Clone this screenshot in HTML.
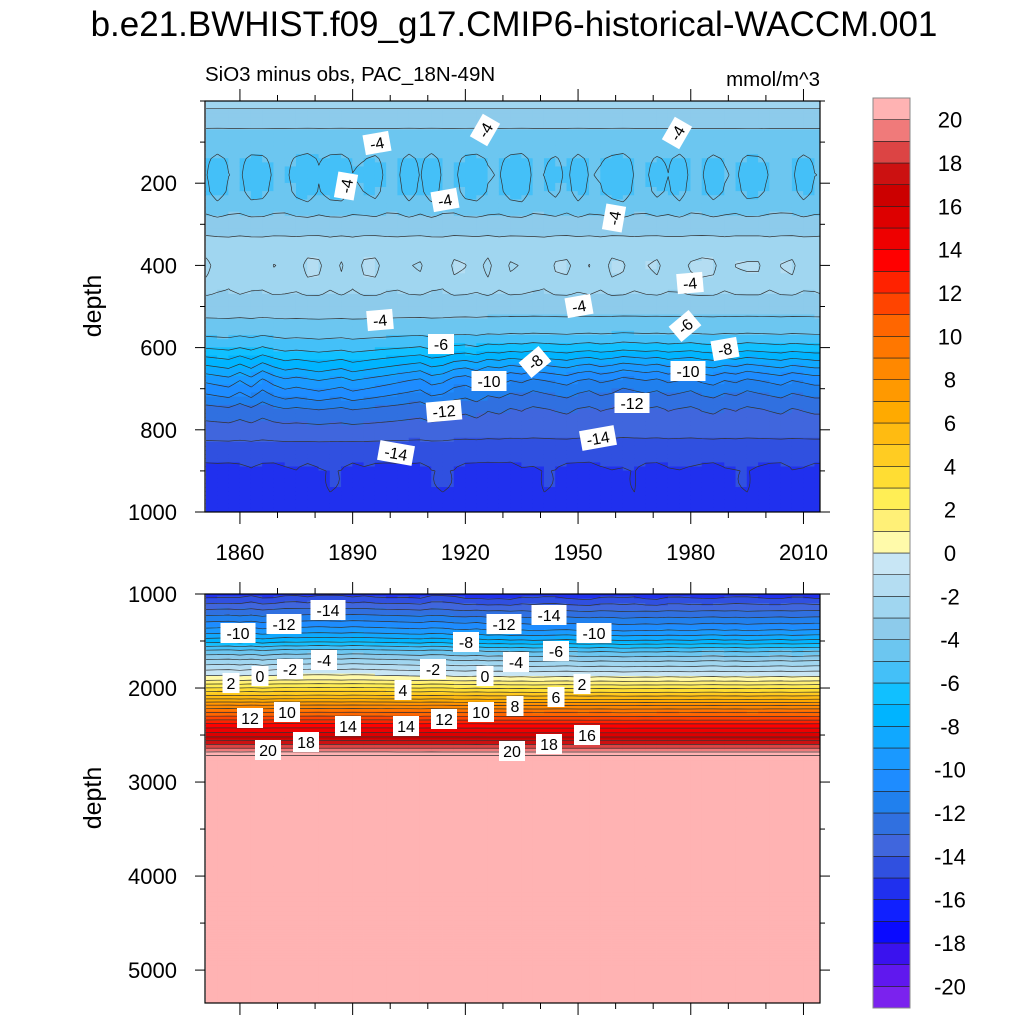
<!DOCTYPE html>
<html><head><meta charset="utf-8">
<style>
body{margin:0;background:#fff;}
svg text{font-family:"Liberation Sans",sans-serif;}
</style></head>
<body>
<svg id="chart" width="1024" height="1024" viewBox="0 0 1024 1024" xmlns="http://www.w3.org/2000/svg">
<text x="514" y="36" font-size="35" text-anchor="middle">b.e21.BWHIST.f09_g17.CMIP6-historical-WACCM.001</text>
<text x="205" y="81" font-size="20.5">SiO3 minus obs, PAC_18N-49N</text>
<text x="820" y="86" font-size="20.5" text-anchor="end">mmol/m^3</text>
<text transform="translate(101,306) rotate(-90)" font-size="25" text-anchor="middle">depth</text>
<text transform="translate(101,798) rotate(-90)" font-size="25" text-anchor="middle">depth</text>
<g id="top"></g>
<g id="bot"></g>
<g id="cbar"></g>
</svg>
<script>
// ---- data ----
const years = [];
for (let y = 1851; y <= 2018; y += 3) years.push(y);
const topDepths = [0,5,36,97,140,182,220,255,303,350,400,440,485,557,600,640,680,750,825,897,970,1000];
const topProfile = [-2.5,-2.6,-3.5,-4.5,-5.0,-5.3,-5.1,-4.5,-3.5,-2.6,-2.2,-2.5,-3.3,-4.5,-6.0,-8.0,-10.0,-12.5,-14.0,-15.2,-15.6,-15.6];
const shallowAnom = [0.4,-0.5,0.3,0.5,-0.4,-0.3,0.5,0.6,-0.2,-0.6,0.2,-0.4,-0.5,0.3,0.1,-0.3,0.6,0.5,-0.5,0.4,-0.6,0.5,0.6,-0.3,-0.5,0.2,0.4,-0.4,-0.6,0.5,0.3,-0.2,0.6,-0.5,0.4,0.2,-0.3,-0.6,0.4,0.5,-0.2,0.3,-0.5,0.6,0.4,-0.4,0.2,0.5,-0.3,-0.2,0.4,0.6,0.5,-0.4,0.3,0.4];
const midAnom = [0.1,0.2,0.3,0.0,0.3,-0.1,0.2,0.4,0.3,0.4,0.5,0.4,0.3,0.5,0.4,0.3,0.2,0.1,0.0,-0.1,0.2,0.1,-0.2,-0.3,-0.1,-0.4,-0.3,-0.5,-0.4,-0.6,-0.5,-0.4,-0.3,-0.5,-0.6,-0.4,-0.5,-0.7,-0.6,-0.5,-0.6,-0.4,-0.5,-0.6,-0.4,-0.3,-0.5,-0.4,-0.6,-0.5,-0.4,-0.3,-0.5,-0.4,-0.3,-0.3];
const deepAnom = [-0.3,-0.2,-0.3,-0.1,0.3,-0.2,-0.3,0.2,0.4,-0.2,0.3,0.5,0.4,-0.3,0.2,-0.2,-0.3,-0.2,-0.1,-0.3,0.4,0.5,0.4,-0.2,-0.3,-0.4,-0.3,-0.4,0.3,0.2,0.5,0.4,-0.2,-0.3,-0.4,0.2,0.4,0.3,0.5,-0.2,-0.3,0.3,0.4,0.2,-0.1,-0.3,0.3,0.4,0.5,0.2,-0.2,-0.3,0.4,0.3,-0.2,-0.2];
const botDepths = [1000,1100,1200,1300,1400,1500,1600,1700,1800,1900,2000,2100,2200,2300,2400,2500,2600,2700,2750,5400];
const botProfile = [-15.5,-14,-12.5,-11,-9.5,-7.5,-5,-3,-1.2,0.5,3,5.5,8.5,11,13.5,15.5,18,20.5,22,22];
const cbColors = ["#7B22EE","#6018EE","#3A12EE","#0A0AFF","#1020FF","#2030EE","#3050E0","#4066DD","#3070E0","#2080EE","#1E8CFF","#1A99FF","#10A8FF","#00B4FF","#11C0FF","#44C0F8","#6CC6F0","#8DCBEB","#A0D6F0","#B4DDF2","#C8E6F5","#FFFAAA","#FFF077","#FFEE55","#FFDD33","#FFCC22","#FFBB11","#FFAA00","#FF9900","#FF8800","#FF7700","#FF6600","#FF4400","#FF2200","#FF0000","#EE0000","#DD0000","#CC0000","#CC1111","#DC4444","#F07A7A","#FFB3B3"];
const cbLabels = [-20,-18,-16,-14,-12,-10,-8,-6,-4,-2,0,2,4,6,8,10,12,14,16,18,20];
const topLabels = [["-4",377,143,-10],["-4",485,130,-60],["-4",677,133,-60],["-4",346,186,-80],["-4",445,200,-10],["-4",614,218,-80],["-4",690,283,-5],["-4",579,306,-10],["-4",380,320,-5],["-6",441,344,0],["-6",685,326,-40],["-8",535,362,-40],["-8",725,349,-10],["-10",489,381,0],["-10",688,371,0],["-12",444,411,-5],["-12",632,403,0],["-14",396,453,10],["-14",598,438,-10]];
const botLabels = [["-14",328,610],["-12",284,624],["-10",238,633],["-12",504,624],["-14",549,615],["-10",594,633],["-8",466,642],["-6",556,651],["-4",324,660],["-4",516,662],["-2",290,669],["-2",433,669],["0",260,676],["0",485,676],["2",231,683],["2",582,684],["4",403,690],["6",556,697],["8",515,706],["10",287,712],["10",481,712],["12",250,718],["12",444,719],["14",348,726],["14",406,726],["16",587,735],["18",306,742],["18",549,744],["20",268,750],["20",512,751]];

// ---- helpers ----
const NS = "http://www.w3.org/2000/svg";
function mk(tag, attrs, parent){const e=document.createElementNS(NS,tag);for(const k in attrs)e.setAttribute(k,attrs[k]);parent.appendChild(e);return e;}
const X0=205,X1=820,Y0min=1850.7,Y1max=2014.4;
const xs = y => X0 + (y - Y0min) * (X1 - X0) / (Y1max - Y0min);
function interp(ds, vs, d){ if(d<=ds[0])return vs[0]; for(let i=1;i<ds.length;i++){ if(d<=ds[i]){const t=(d-ds[i-1])/(ds[i]-ds[i-1]);return vs[i-1]+t*(vs[i]-vs[i-1]);} } return vs[vs.length-1]; }
function bump(d,c,w){const z=(d-c)/w;return Math.exp(-z*z);}
function A(arr,i){return arr[i%arr.length];}
function topVal(i,d){return interp(topDepths,topProfile,d)+A(shallowAnom,i)*bump(d,200,60)+A(shallowAnom,i+7)*0.8*bump(d,410,50)+A(midAnom,i)*2*bump(d,680,90)+A(deepAnom,i)*bump(d,950,60);}
function botVal(i,d){return interp(botDepths,botProfile,d)+A(midAnom,i)*0.6*bump(d,1500,600)+A(deepAnom,i)*0.5*bump(d,1050,80);}
function colorOf(v){let k=Math.floor(v)+21;k=Math.max(0,Math.min(41,k));return cbColors[k];}

function panel(g, py0, py1, dmin, dmax, depthStep, valFn, yTicks, minorStep, xLabels){
  const ys = d => py0 + (d - dmin) * (py1 - py0) / (dmax - dmin);
  const clipId = 'clip'+py0;
  const cp = mk('clipPath',{id:clipId},g); mk('rect',{x:X0,y:py0,width:X1-X0,height:py1-py0},cp);
  const inner = mk('g',{'clip-path':'url(#'+clipId+')'},g);
  const ds=[]; for(let d=dmin; d<=dmax+1e-6; d+=depthStep) ds.push(d);
  const V = years.map((y,i)=>ds.map(d=>valFn(i,d)));
  for(let i=0;i<years.length-1;i++){
    for(let j=0;j<ds.length-1;j++){
      const v=(V[i][j]+V[i+1][j]+V[i][j+1]+V[i+1][j+1])/4;
      const r=mk('rect',{x:xs(years[i])-0.3,y:ys(ds[j])-0.3,width:xs(years[i+1])-xs(years[i])+0.6,height:ys(ds[j+1])-ys(ds[j])+0.6,fill:colorOf(v)},inner);
      
      
    }
  }
  let path='';
  for(let L=-20;L<=21;L++){
    for(let i=0;i<years.length-1;i++){
      for(let j=0;j<ds.length-1;j++){
        const c=[[years[i],ds[j],V[i][j]],[years[i+1],ds[j],V[i+1][j]],[years[i+1],ds[j+1],V[i+1][j+1]],[years[i],ds[j+1],V[i][j+1]]];
        const pts=[];
        for(let e=0;e<4;e++){const a=c[e],b=c[(e+1)%4];
          if((a[2]<L)!==(b[2]<L)){const t=(L-a[2])/(b[2]-a[2]);pts.push([xs(a[0]+t*(b[0]-a[0])),ys(a[1]+t*(b[1]-a[1]))]);}}
        for(let p=0;p+1<pts.length;p+=2) path+='M'+pts[p][0].toFixed(1)+' '+pts[p][1].toFixed(1)+'L'+pts[p+1][0].toFixed(1)+' '+pts[p+1][1].toFixed(1);
      }
    }
  }
  const cl=mk('path',{d:path,stroke:'#333',"stroke-width":0.7,fill:'none'},inner);
  
  
  mk('rect',{x:X0,y:py0,width:X1-X0,height:py1-py0,fill:'none',stroke:'#000','stroke-width':1.2},g);
  for(let d=Math.ceil(dmin/minorStep)*minorStep; d<=dmax; d+=minorStep){
    const y=ys(d); const major=yTicks.includes(d); const len=major?10:5;
    mk('line',{x1:X0,x2:X0-len,y1:y,y2:y,stroke:'#000','stroke-width':1},g);
    mk('line',{x1:X1,x2:X1+len,y1:y,y2:y,stroke:'#000','stroke-width':1},g);
    if(major){const t=mk('text',{x:X0-28,y:y+8,'font-size':22,'text-anchor':'end'},g);t.textContent=d;
      
      }
  }
  for(let yr=1860; yr<=2014; yr+=10){
    const x=xs(yr); const major=(yr-1860)%30===0; const len=major?12:6;
    mk('line',{x1:x,x2:x,y1:py1,y2:py1+len,stroke:'#000','stroke-width':1},g);
    mk('line',{x1:x,x2:x,y1:py0,y2:py0-len,stroke:'#000','stroke-width':1},g);
    if(major && xLabels){const t=mk('text',{x:x,y:py1+48,'font-size':22,'text-anchor':'middle'},g);t.textContent=yr;
      
      }
  }
}
function labels(g, list){
  list.forEach(l=>{
    const rot=l[3]||0;
    const grp=mk('g',{transform:'translate('+l[1]+','+l[2]+') rotate('+rot+')'},g);
    
    
    const w=l[0].length*9+8;
    mk('rect',{x:-w/2,y:-10,width:w,height:20,fill:'#fff'},grp);
    const t=mk('text',{x:0,y:6,'font-size':16,'text-anchor':'middle'},grp); t.textContent=l[0];
  });
}
const gt=document.getElementById('top'), gb=document.getElementById('bot');
panel(gt,101,512,0,1000,10,topVal,[200,400,600,800,1000],100,true);
labels(gt,topLabels);
panel(gb,594,1003,1000,5350,25,botVal,[1000,2000,3000,4000,5000],500,false);
labels(gb,botLabels);
const cb=document.getElementById('cbar'); const cx=873,cw=37,cy0=98,cy1=1008; const bh=(cy1-cy0)/cbColors.length;
cbColors.forEach((c,k)=>{const r=mk('rect',{x:cx,y:cy1-(k+1)*bh,width:cw,height:bh,fill:c,stroke:'#222','stroke-width':0.6},cb);
  
  });
mk('rect',{x:cx,y:cy0,width:cw,height:cy1-cy0,fill:'none',stroke:'#888','stroke-width':1},cb);
cbLabels.forEach(v=>{const y=cy1-(v+21)*bh;const t=mk('text',{x:950,y:y+8,'font-size':22,'text-anchor':'middle'},cb);t.textContent=v;
  
  });
</script>
</body></html>
